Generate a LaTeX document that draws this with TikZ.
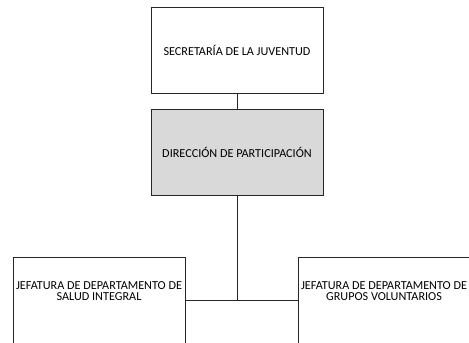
\documentclass[tikz,border=0pt]{standalone}
\usepackage{fontspec}
\setmainfont{Carlito}
\usepackage{tikz}
\usetikzlibrary{positioning}

\begin{document}
\begin{tikzpicture}[x=1pt, y=1pt,
    box/.style={draw=black!85, line width=0.9pt, minimum width=172pt, minimum height=86pt,
        inner sep=0pt, align=center, font=\fontsize{12.2}{11.5}\selectfont},
    link/.style={draw=black!85, line width=0.9pt}]
    % Sheet (the lower boxes run off the page)
    \useasboundingbox (0,0) rectangle (469,-343);
    \clip (0,0) rectangle (469,-343);

    % Upper levels
    \node[box] (secretaria) at (237,-50) {SECRETARÍA DE LA JUVENTUD};
    \node[box, fill=black!15, below=16pt of secretaria] (direccion) {DIRECCIÓN DE PARTICIPACIÓN};

    % Departments
    \node[box, text depth=18pt] (salud) at (99,-300) {JEFATURA DE DEPARTAMENTO DE\\SALUD INTEGRAL};
    \node[box, text depth=18pt] (voluntarios) at (384,-300) {JEFATURA DE DEPARTAMENTO DE\\GRUPOS VOLUNTARIOS};

    % Connectors
    \coordinate (junction) at (direccion.south |- salud.east);
    \draw[link] (secretaria) -- (direccion);
    \draw[link] (direccion) -- (junction);
    \draw[link] (salud) -- (voluntarios);
\end{tikzpicture}
\end{document}
